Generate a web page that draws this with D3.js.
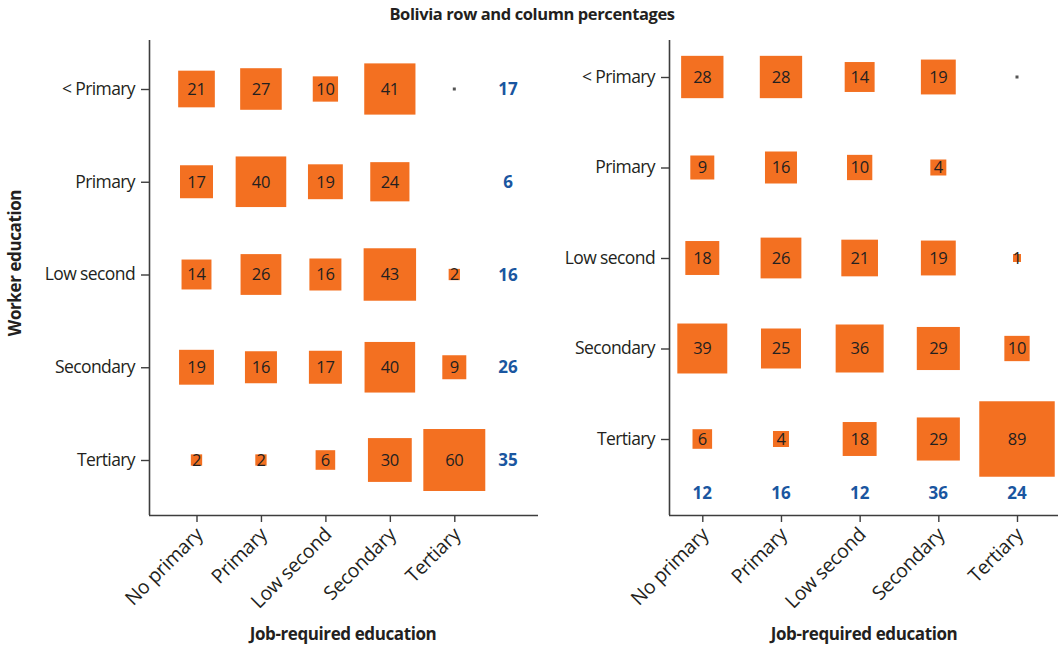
<!DOCTYPE html>
<html>
<head>
<meta charset="utf-8">
<script src="https://cdn.jsdelivr.net/npm/d3@7"></script>
<style>
  html, body { margin: 0; padding: 0; background: #fff; }
  svg { display: block; font-family: "Open Sans", "Noto Sans", sans-serif; }
</style>
</head>
<body>
<svg id="chart" width="1058" height="650"></svg>
<script>
// Education categories (rows: worker education, columns: job-required education)
const workerLevels = ["< Primary", "Primary", "Low second", "Secondary", "Tertiary"];
const jobLevels = ["No primary", "Primary", "Low second", "Secondary", "Tertiary"];

// Row percentages: share of each worker-education group by job-required education
const rowPctLessPrimary = [21, 27, 10, 41, 0];
const rowPctPrimary     = [17, 40, 19, 24, null];
const rowPctLowSecond   = [14, 26, 16, 43, 2];
const rowPctSecondary   = [19, 16, 17, 40, 9];
const rowPctTertiary    = [2, 2, 6, 30, 60];
const rowTotals = [17, 6, 16, 26, 35];

// Column percentages: share of each job-required group by worker education
const colPctLessPrimary = [28, 28, 14, 19, 0];
const colPctPrimary     = [9, 16, 10, 4, null];
const colPctLowSecond   = [18, 26, 21, 19, 1];
const colPctSecondary   = [39, 25, 36, 29, 10];
const colPctTertiary    = [6, 4, 18, 29, 89];
const colTotals = [12, 16, 12, 36, 24];

const rowMatrix = [rowPctLessPrimary, rowPctPrimary, rowPctLowSecond, rowPctSecondary, rowPctTertiary];
const colMatrix = [colPctLessPrimary, colPctPrimary, colPctLowSecond, colPctSecondary, colPctTertiary];

const ORANGE = "#f37021";
const BLUE = "#1a56a0";
const AXIS = "#3d3d3d";
const TEXT = "#231f20";

const svg = d3.select("#chart");

// square side grows with the square root of the percentage (area ~ value)
const side = d3.scaleSqrt().domain([0, 100]).range([0, 80]);

svg.append("text")
  .attr("x", 532).attr("y", 20)
  .attr("text-anchor", "middle")
  .attr("font-size", 16.5).attr("font-weight", 700)
  .attr("fill", TEXT)
  .attr("letter-spacing", -0.4)
  .text("Bolivia row and column percentages");

function drawPanel(cfg) {
  const g = svg.append("g");
  const x = d3.scalePoint().domain(jobLevels).range(cfg.xRange);
  const y = d3.scalePoint().domain(workerLevels).range(cfg.yRange);

  // axes
  const xAxis = g.append("g")
    .attr("transform", `translate(0,${cfg.bottom})`)
    .call(d3.axisBottom(x).tickSize(7).tickSizeOuter(0));
  xAxis.select(".domain").attr("d", `M${cfg.left},0.5H${cfg.right}`);
  const yAxis = g.append("g")
    .attr("transform", `translate(${cfg.left},0)`)
    .call(d3.axisLeft(y).tickSize(8).tickSizeOuter(0).tickPadding(6));
  yAxis.select(".domain").attr("d", `M0.5,${cfg.top}V${cfg.bottom}`);

  [xAxis, yAxis].forEach(a => {
    a.selectAll(".domain").attr("stroke", AXIS).attr("stroke-width", 1.6);
    a.selectAll(".tick line").attr("stroke", AXIS).attr("stroke-width", 1.4);
    a.selectAll(".tick text").attr("fill", TEXT).attr("font-size", 17.5)
      .attr("font-family", "'Open Sans', sans-serif").attr("letter-spacing", -0.6);
  });
  yAxis.selectAll(".tick text").attr("dy", "0.3em");
  xAxis.selectAll(".tick text")
    .attr("font-size", 19.5)
    .attr("letter-spacing", -0.3)
    .attr("text-anchor", "end")
    .attr("transform", "translate(2,16) rotate(-45)")
    .attr("dy", "0.35em")
    .attr("y", 0).attr("x", 0);

  // cells
  const cells = [];
  cfg.matrix.forEach((row, i) => row.forEach((v, j) => {
    if (v !== null) cells.push({ r: workerLevels[i], c: jobLevels[j], v });
  }));

  const cg = g.append("g");
  cg.selectAll("rect.cell")
    .data(cells.filter(d => d.v > 0))
    .join("rect").attr("class", "cell")
    .attr("x", d => x(d.c) - side(d.v) / 2)
    .attr("y", d => y(d.r) - side(d.v) / 2)
    .attr("width", d => side(d.v))
    .attr("height", d => side(d.v))
    .attr("fill", ORANGE);

  // zero cells shown as a tiny marker
  cg.selectAll("rect.zero")
    .data(cells.filter(d => d.v === 0))
    .join("rect").attr("class", "zero")
    .attr("x", d => x(d.c) - 1.5)
    .attr("y", d => y(d.r) - 1.5)
    .attr("width", 3).attr("height", 3)
    .attr("fill", "#555");

  cg.selectAll("text.val")
    .data(cells.filter(d => d.v > 0))
    .join("text").attr("class", "val")
    .attr("x", d => x(d.c))
    .attr("y", d => y(d.r))
    .attr("dy", "0.36em")
    .attr("text-anchor", "middle")
    .attr("font-size", 16.5)
    .attr("letter-spacing", -0.3)
    .attr("fill", TEXT)
    .text(d => d.v);

  // marginal totals
  g.append("g").selectAll("text")
    .data(cfg.totals)
    .join("text")
    .attr("x", (d, i) => cfg.totalX(i, x, y))
    .attr("y", (d, i) => cfg.totalY(i, x, y))
    .attr("dy", "0.36em")
    .attr("text-anchor", "middle")
    .attr("font-size", 17).attr("font-weight", 700)
    .attr("fill", BLUE)
    .text(d => d);

  // x axis title
  g.append("text")
    .attr("x", cfg.xTitleX).attr("y", 640)
    .attr("text-anchor", "middle")
    .attr("font-size", 17).attr("font-weight", 700)
    .attr("letter-spacing", -0.4)
    .attr("fill", TEXT)
    .text("Job-required education");
}

drawPanel({
  matrix: rowMatrix, totals: rowTotals,
  left: 149, right: 538, top: 40, bottom: 515,
  xRange: [196.5, 454.3], yRange: [89, 460],
  totalX: () => 508,
  totalY: (i, x, y) => y(workerLevels[i]),
  xTitleX: 343
});

drawPanel({
  matrix: colMatrix, totals: colTotals,
  left: 669, right: 1058, top: 40, bottom: 515,
  xRange: [702.3, 1017], yRange: [77, 439],
  totalX: (i, x) => x(jobLevels[i]),
  totalY: () => 493,
  xTitleX: 864
});

// y axis title
svg.append("text")
  .attr("transform", "translate(21,263) rotate(-90)")
  .attr("text-anchor", "middle")
  .attr("font-size", 17).attr("font-weight", 700)
  .attr("letter-spacing", -0.4)
  .attr("fill", TEXT)
  .text("Worker education");
</script>
</body>
</html>
